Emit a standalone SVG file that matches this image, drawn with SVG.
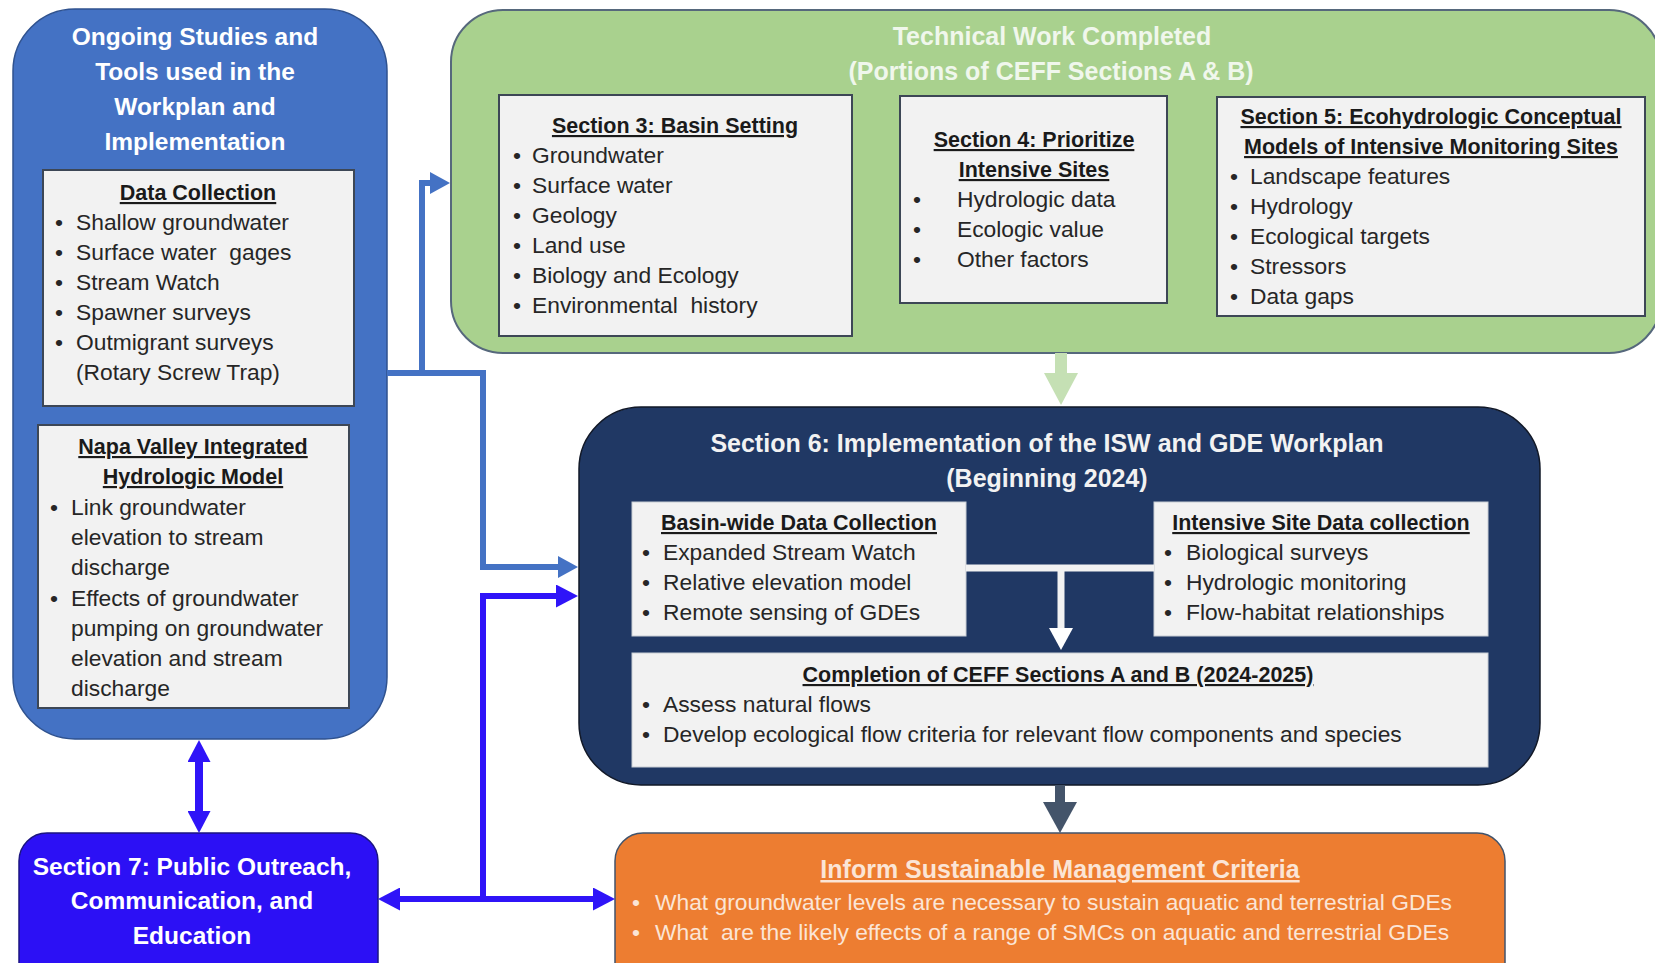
<svg xmlns="http://www.w3.org/2000/svg" width="1655" height="963" viewBox="0 0 1655 963">
<style>
text{font-family:"Liberation Sans",Arial,sans-serif}
.body{font-size:22.8px;fill:#262626}
.hdr{font-size:21.5px;font-weight:bold;fill:#1a1a1a;text-decoration:underline;text-anchor:middle}
.ttl{font-size:24.5px;font-weight:bold;fill:#ffffff;text-anchor:middle}
.gbox{fill:#F2F2F2;stroke:#3d4756;stroke-width:2}
.ibox{fill:#F2F2F2;stroke:#c8cdd4;stroke-width:1}
.orng{font-size:22.8px;fill:#FBE5D6}
.c-lb{fill:none;stroke:#4472C4;stroke-width:6}
.c-bb{fill:none;stroke:#2F14F8;stroke-width:6}
</style>
<defs>
<marker id="mLB" markerUnits="userSpaceOnUse" viewBox="0 0 20 22" markerWidth="20" markerHeight="22" refX="0" refY="11" orient="auto-start-reverse"><path d="M0,0 L20,11 L0,22 z" fill="#4472C4"/></marker>
<marker id="mBB" markerUnits="userSpaceOnUse" viewBox="0 0 22 23" markerWidth="22" markerHeight="23" refX="0" refY="11.5" orient="auto-start-reverse"><path d="M0,0 L22,11.5 L0,23 z" fill="#2F14F8"/></marker>
<marker id="mW" markerUnits="userSpaceOnUse" viewBox="0 0 22 24" markerWidth="22" markerHeight="24" refX="0" refY="12" orient="auto"><path d="M0,0 L22,12 L0,24 z" fill="#ffffff"/></marker>
<marker id="mG" markerUnits="userSpaceOnUse" viewBox="0 0 32 34" markerWidth="32" markerHeight="34" refX="0" refY="17" orient="auto"><path d="M0,0 L32,17 L0,34 z" fill="#C5E0B4"/></marker>
<marker id="mD" markerUnits="userSpaceOnUse" viewBox="0 0 31 34" markerWidth="31" markerHeight="34" refX="0" refY="17" orient="auto"><path d="M0,0 L31,17 L0,34 z" fill="#44546A"/></marker>
</defs>
<rect width="1655" height="963" fill="#ffffff"/>

<g id="ongoing">
<rect x="13" y="9" width="374" height="730" rx="62" fill="#4472C4" stroke="#2F528F" stroke-width="1.5"/>
<text class="ttl" x="195" y="45">Ongoing Studies and</text>
<text class="ttl" x="195" y="80">Tools used in the</text>
<text class="ttl" x="195" y="115">Workplan and</text>
<text class="ttl" x="195" y="150">Implementation</text>
</g>
<g id="data-collection">
<rect class="gbox" x="43" y="170" width="311" height="236"/>
<text class="hdr" x="198" y="200">Data Collection</text>
<text class="body" y="230"><tspan x="55">•</tspan><tspan x="76">Shallow groundwater</tspan></text>
<text class="body" y="260" xml:space="preserve"><tspan x="55">•</tspan><tspan x="76">Surface water  gages</tspan></text>
<text class="body" y="290"><tspan x="55">•</tspan><tspan x="76">Stream Watch</tspan></text>
<text class="body" y="320"><tspan x="55">•</tspan><tspan x="76">Spawner surveys</tspan></text>
<text class="body" y="350"><tspan x="55">•</tspan><tspan x="76">Outmigrant surveys</tspan></text>
<text class="body" x="76" y="380">(Rotary Screw Trap)</text>
</g>
<g id="napa-model">
<rect class="gbox" x="38" y="425" width="311" height="283"/>
<text class="hdr" x="193" y="454">Napa Valley Integrated</text>
<text class="hdr" x="193" y="484">Hydrologic Model</text>
<text class="body" y="515"><tspan x="50">•</tspan><tspan x="71">Link groundwater</tspan></text>
<text class="body" x="71" y="545">elevation to stream</text>
<text class="body" x="71" y="575">discharge</text>
<text class="body" y="606"><tspan x="50">•</tspan><tspan x="71">Effects of groundwater</tspan></text>
<text class="body" x="71" y="636">pumping on groundwater</text>
<text class="body" x="71" y="666">elevation and stream</text>
<text class="body" x="71" y="696">discharge</text>
</g>

<g id="technical-work">
<rect x="451" y="10" width="1210" height="343" rx="52" fill="#A9D18E" stroke="#56687C" stroke-width="2"/>
<text class="ttl" x="1052" y="45" style="fill:#F0F7EC;font-size:25px">Technical Work Completed</text>
<text class="ttl" x="1051" y="80" style="fill:#F0F7EC;font-size:25px">(Portions of CEFF Sections A &amp; B)</text>
</g>
<g id="section3">
<rect class="gbox" x="499" y="95" width="353" height="241"/>
<text class="hdr" x="675" y="133">Section 3: Basin Setting</text>
<text class="body" y="163"><tspan x="513">•</tspan><tspan x="532">Groundwater</tspan></text>
<text class="body" y="193"><tspan x="513">•</tspan><tspan x="532">Surface water</tspan></text>
<text class="body" y="223"><tspan x="513">•</tspan><tspan x="532">Geology</tspan></text>
<text class="body" y="253"><tspan x="513">•</tspan><tspan x="532">Land use</tspan></text>
<text class="body" y="283"><tspan x="513">•</tspan><tspan x="532">Biology and Ecology</tspan></text>
<text class="body" y="313" xml:space="preserve"><tspan x="513">•</tspan><tspan x="532">Environmental  history</tspan></text>
</g>
<g id="section4">
<rect class="gbox" x="900" y="96" width="267" height="207"/>
<text class="hdr" x="1034" y="147">Section 4: Prioritize</text>
<text class="hdr" x="1034" y="177">Intensive Sites</text>
<text class="body" y="207"><tspan x="913">•</tspan><tspan x="957">Hydrologic data</tspan></text>
<text class="body" y="237"><tspan x="913">•</tspan><tspan x="957">Ecologic value</tspan></text>
<text class="body" y="267"><tspan x="913">•</tspan><tspan x="957">Other factors</tspan></text>
</g>
<g id="section5">
<rect class="gbox" x="1217" y="97" width="428" height="219"/>
<text class="hdr" x="1431" y="124">Section 5: Ecohydrologic Conceptual</text>
<text class="hdr" x="1431" y="154">Models of Intensive Monitoring Sites</text>
<text class="body" y="184"><tspan x="1230">•</tspan><tspan x="1250">Landscape features</tspan></text>
<text class="body" y="214"><tspan x="1230">•</tspan><tspan x="1250">Hydrology</tspan></text>
<text class="body" y="244"><tspan x="1230">•</tspan><tspan x="1250">Ecological targets</tspan></text>
<text class="body" y="274"><tspan x="1230">•</tspan><tspan x="1250">Stressors</tspan></text>
<text class="body" y="304"><tspan x="1230">•</tspan><tspan x="1250">Data gaps</tspan></text>
</g>

<g id="section6">
<rect x="579" y="407" width="961" height="378" rx="62" fill="#203864" stroke="#111827" stroke-width="1.5"/>
<text class="ttl" x="1047" y="452" style="fill:#F2F2F2;font-size:25px">Section 6: Implementation of the ISW and GDE Workplan</text>
<text class="ttl" x="1047" y="487" style="fill:#F2F2F2;font-size:25px">(Beginning 2024)</text>
</g>
<g id="basin-wide">
<rect class="ibox" x="632" y="502" width="334" height="134"/>
<text class="hdr" x="799" y="530">Basin-wide Data Collection</text>
<text class="body" y="560"><tspan x="642">•</tspan><tspan x="663">Expanded Stream Watch</tspan></text>
<text class="body" y="590"><tspan x="642">•</tspan><tspan x="663">Relative elevation model</tspan></text>
<text class="body" y="620"><tspan x="642">•</tspan><tspan x="663">Remote sensing of GDEs</tspan></text>
</g>
<g id="intensive-site">
<rect class="ibox" x="1154" y="502" width="334" height="134"/>
<text class="hdr" x="1321" y="530">Intensive Site Data collection</text>
<text class="body" y="560"><tspan x="1164">•</tspan><tspan x="1186">Biological surveys</tspan></text>
<text class="body" y="590"><tspan x="1164">•</tspan><tspan x="1186">Hydrologic monitoring</tspan></text>
<text class="body" y="620"><tspan x="1164">•</tspan><tspan x="1186">Flow-habitat relationships</tspan></text>
</g>
<g id="completion">
<rect class="ibox" x="632" y="653" width="856" height="114"/>
<text class="hdr" x="1058" y="682">Completion of CEFF Sections A and B (2024-2025)</text>
<text class="body" y="712"><tspan x="642">•</tspan><tspan x="663">Assess natural flows</tspan></text>
<text class="body" y="742"><tspan x="642">•</tspan><tspan x="663">Develop ecological flow criteria for relevant flow components and species</tspan></text>
</g>

<g id="section7">
<rect x="19" y="833" width="359" height="160" rx="28" fill="#2C10F5" stroke="#1b1580" stroke-width="1.5"/>
<text class="ttl" x="192" y="875">Section 7: Public Outreach,</text>
<text class="ttl" x="192" y="909">Communication, and</text>
<text class="ttl" x="192" y="944">Education</text>
</g>
<g id="inform-smc">
<rect x="615" y="833" width="890" height="160" rx="28" fill="#ED7D31" stroke="#41536B" stroke-width="1.5"/>
<text class="ttl" x="1060" y="878" style="fill:#FBE5D6;text-decoration:underline;font-size:25px">Inform Sustainable Management Criteria</text>
<text class="orng" y="910"><tspan x="632">•</tspan><tspan x="655">What groundwater levels are necessary to sustain aquatic and terrestrial GDEs</tspan></text>
<text class="orng" y="940" xml:space="preserve"><tspan x="632">•</tspan><tspan x="655">What  are the likely effects of a range of SMCs on aquatic and terrestrial GDEs</tspan></text>
</g>

<g id="connectors">
<path class="c-lb" d="M387,373 H483 V567 H558" marker-end="url(#mLB)"/>
<path class="c-lb" d="M422,376 V183 H430" marker-end="url(#mLB)"/>
<path class="c-bb" d="M483,899 V596 H556" marker-end="url(#mBB)"/>
<path class="c-bb" d="M400,899 H593" marker-start="url(#mBB)" marker-end="url(#mBB)"/>
<path class="c-bb" d="M199,762 V811" style="stroke-width:8" marker-start="url(#mBB)" marker-end="url(#mBB)"/>
<path d="M1061,353 V373" fill="none" stroke="#C5E0B4" stroke-width="12" marker-end="url(#mG)"/>
<path d="M1060,785 V802" fill="none" stroke="#44546A" stroke-width="10" marker-end="url(#mD)"/>
<path d="M966,568 H1154" fill="none" stroke="#F2F2F2" stroke-width="7"/>
<path d="M1061,568 V628" fill="none" stroke="#F2F2F2" stroke-width="7" marker-end="url(#mW)"/>
</g>
</svg>
